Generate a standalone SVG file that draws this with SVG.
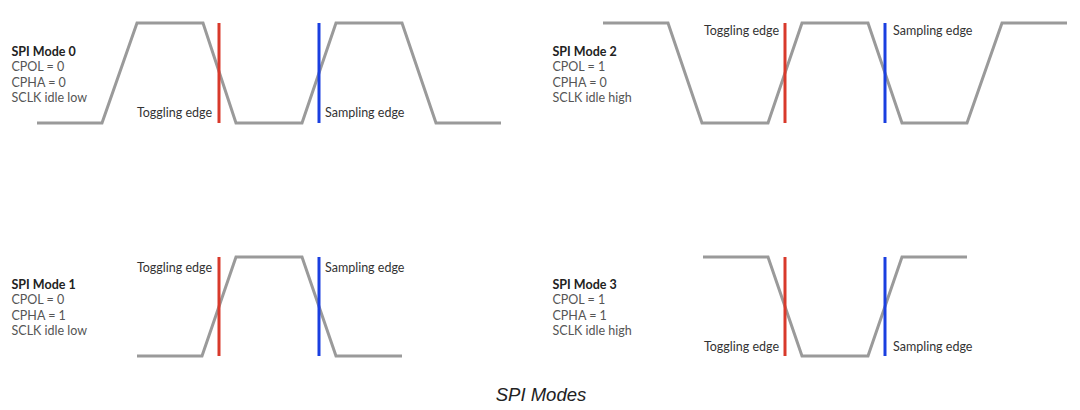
<svg xmlns="http://www.w3.org/2000/svg" width="1080" height="410" viewBox="0 0 1080 410">
<style>
.sig{fill:none;stroke:#9a9a9a;stroke-width:3;stroke-linejoin:miter}
.tog{stroke:#d8392b;stroke-width:3}
.smp{stroke:#1a3fe0;stroke-width:3}
.t{font-family:Lato,"Open Sans",sans-serif;font-size:12.5px;fill:#555}
.h{font-family:Lato,"Open Sans",sans-serif;font-size:12.5px;font-weight:bold;fill:#222}
.e{font-family:Lato,"Open Sans",sans-serif;font-size:12.5px;fill:#333}
.cap{font-family:"Liberation Sans",Arial,sans-serif;font-size:18.5px;font-style:italic;fill:#222}
</style>
<rect width="1080" height="410" fill="#fff"/>
<g id="mode0">
<text class="h" x="11.5" y="56">SPI Mode 0</text>
<text class="t" x="11.5" y="71">CPOL = 0</text>
<text class="t" x="11.5" y="87">CPHA = 0</text>
<text class="t" x="11.5" y="102">SCLK idle low</text>
<polyline class="sig" points="37,123 102,123 137,23 203,23 236,123 302,123 336,23 402,23 436,123 501,123"/>
<text class="e" x="212" y="117" text-anchor="end">Toggling edge</text>
<text class="e" x="325" y="117">Sampling edge</text>
</g>
<g id="mode2">
<text class="h" x="552.5" y="56">SPI Mode 2</text>
<text class="t" x="552.5" y="71">CPOL = 1</text>
<text class="t" x="552.5" y="87">CPHA = 0</text>
<text class="t" x="552.5" y="102">SCLK idle high</text>
<polyline class="sig" points="603,23 668,23 702,123 768,123 802,23 868,23 902,123 967,123 1002,23 1067,23"/>
<text class="e" x="779" y="35" text-anchor="end">Toggling edge</text>
<text class="e" x="893" y="35">Sampling edge</text>
</g>
<g id="mode1">
<text class="h" x="11.5" y="289">SPI Mode 1</text>
<text class="t" x="11.5" y="304">CPOL = 0</text>
<text class="t" x="11.5" y="320">CPHA = 1</text>
<text class="t" x="11.5" y="335">SCLK idle low</text>
<polyline class="sig" points="137,356 202,356 236,257 302,257 336,356 402,356"/>
<text class="e" x="212" y="272" text-anchor="end">Toggling edge</text>
<text class="e" x="325" y="272">Sampling edge</text>
</g>
<g id="mode3">
<text class="h" x="552.5" y="289">SPI Mode 3</text>
<text class="t" x="552.5" y="304">CPOL = 1</text>
<text class="t" x="552.5" y="320">CPHA = 1</text>
<text class="t" x="552.5" y="335">SCLK idle high</text>
<polyline class="sig" points="703,257 768,257 802,356 868,356 902,257 967,257"/>
<text class="e" x="779" y="351" text-anchor="end">Toggling edge</text>
<text class="e" x="893" y="351">Sampling edge</text>
</g>
<g id="connectors">
<line class="tog" x1="219" y1="23" x2="219" y2="123"/>
<line class="smp" x1="319" y1="23" x2="319" y2="123"/>
<line class="tog" x1="785" y1="23" x2="785" y2="123"/>
<line class="smp" x1="885" y1="23" x2="885" y2="123"/>
<line class="tog" x1="219" y1="257" x2="219" y2="356"/>
<line class="smp" x1="319" y1="257" x2="319" y2="356"/>
<line class="tog" x1="785" y1="257" x2="785" y2="356"/>
<line class="smp" x1="885" y1="257" x2="885" y2="356"/>
</g>
<text class="cap" x="541" y="401" text-anchor="middle">SPI Modes</text>
</svg>
